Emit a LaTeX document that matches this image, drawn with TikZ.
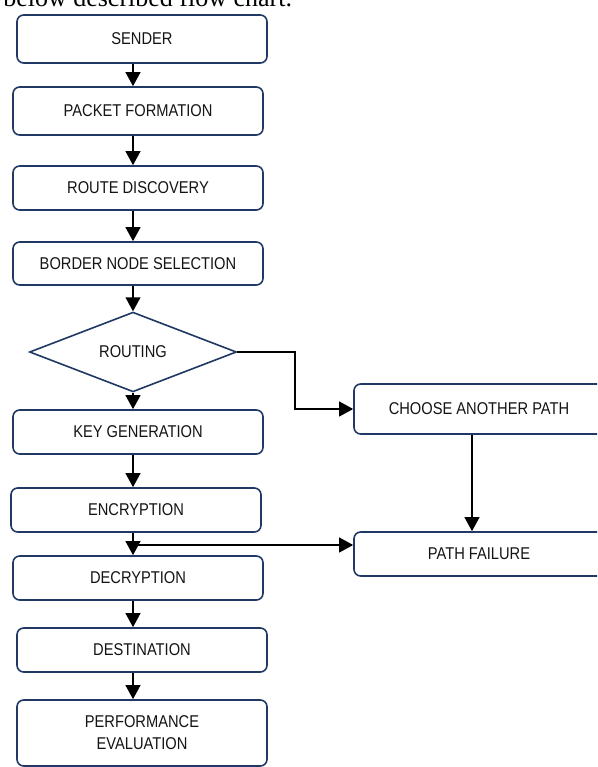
\documentclass[tikz,border=0pt]{standalone}
\usepackage{fontspec}
\setmainfont{Liberation Sans}[FakeStretch=0.86]
\newfontfamily\serifnote{Liberation Serif}
\usetikzlibrary{arrows.meta,shapes.geometric}
\definecolor{boxblue}{RGB}{31,56,100}
\definecolor{txt}{RGB}{20,20,20}
\begin{document}
\begin{tikzpicture}[x=0.75pt,y=-0.75pt,
  box/.style={draw=boxblue,line width=1.2pt,rounded corners=5pt,fill=white,inner sep=0pt,
    text=txt,font=\fontsize{12.8}{16.5}\selectfont,align=center,minimum width=187.5pt},
  dia/.style={draw=boxblue,line width=1.2pt,diamond,fill=white,inner sep=0pt,
    text=txt,font=\fontsize{12.8}{16.5}\selectfont,minimum width=155.25pt,minimum height=54.75pt},
  arr/.style={line width=1.5pt,-{Triangle[width=11pt,length=10.5pt]}}]
\useasboundingbox (0,0) rectangle (597,767);
\begin{scope}
\clip (0,0) rectangle (597,767);
\node[anchor=base west,font=\serifnote\fontsize{19.5}{22}\selectfont,inner sep=0pt] (cap) at (3,6.5) {below described flow chart.};

\node[box,minimum height=36pt] (sender) at (142,39) {SENDER};
\node[box,minimum height=36pt] (packet) at (138,111) {PACKET FORMATION};
\node[box,minimum height=33pt] (route) at (138,188) {ROUTE DISCOVERY};
\node[box,minimum height=32.25pt] (border) at (138,263.5) {BORDER NODE SELECTION};
\node[dia] (routing) at (133,352) {ROUTING};
\node[box,minimum height=33pt] (keygen) at (138,432) {KEY GENERATION};
\node[box,minimum height=33pt] (encrypt) at (136,510) {ENCRYPTION};
\node[box,minimum height=33pt] (decrypt) at (138,578) {DECRYPTION};
\node[box,minimum height=33pt] (dest) at (142,650) {DESTINATION};
\node[box,minimum height=49.5pt] (perf) at (142,733) {PERFORMANCE\\EVALUATION};
\node[box,minimum height=37.5pt] (choose) at (479,409) {CHOOSE ANOTHER PATH};
\node[box,minimum height=33pt] (fail) at (479,554) {PATH FAILURE};

\coordinate (ax) at (133,0);
\coordinate (bend) at (295,0);
\coordinate (cx) at (472,0);
\coordinate (br) at (133,545);

\draw[arr] (sender.south -| ax) -- (packet.north -| ax);
\draw[arr] (packet.south -| ax) -- (route.north -| ax);
\draw[arr] (route.south -| ax) -- (border.north -| ax);
\draw[arr] (border.south -| ax) -- (routing.north);
\draw[arr] (routing.south) -- (keygen.north -| ax);
\draw[arr] (keygen.south -| ax) -- (encrypt.north -| ax);
\draw[arr] (encrypt.south -| ax) -- (decrypt.north -| ax);
\draw[arr] (decrypt.south -| ax) -- (dest.north -| ax);
\draw[arr] (dest.south -| ax) -- (perf.north -| ax);
\draw[arr] (routing.east) -- (routing.east -| bend) -- (bend |- choose.west) -- (choose.west);
\draw[arr] (choose.south -| cx) -- (fail.north -| cx);
\draw[arr] (br) -- (br -| fail.west);
\end{scope}
\end{tikzpicture}
\end{document}
